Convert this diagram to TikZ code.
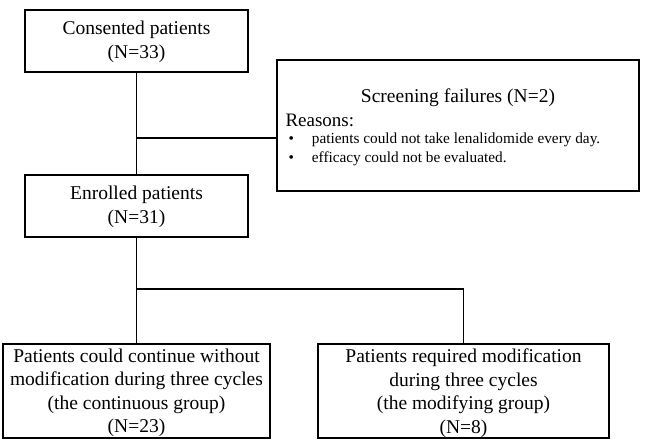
\documentclass[tikz,border=0pt]{standalone}
\usepackage{fontspec}
\setmainfont{Liberation Serif}
\begin{document}
\begin{tikzpicture}[x=1pt,y=-1pt,
 box/.style={draw,line width=1.6pt,inner sep=0pt},
 txt/.style={font=\fontsize{19.5}{23.5}\selectfont,align=center},
 ln/.style={line width=1.6pt}]
\useasboundingbox (0,0) rectangle (648,441);
\node[box,minimum width=223pt,minimum height=62pt] (a) at (136.5,41) {};
\node[txt] at (136.5,42) {Consented patients\\(N=33)};
\node[box,minimum width=362pt,minimum height=131pt] (s) at (458,125.5) {};
\node[txt] (st) at (458,98) {Screening failures (N=2)};
\node[font=\fontsize{19}{21}\selectfont,anchor=west] (r) at (282,120) {Reasons:};
\node[font=\fontsize{15.3}{17}\selectfont,anchor=west] (b1) at (285,140) {\textbullet\hspace{18pt}patients could not take lenalidomide every day.};
\node[font=\fontsize{15.3}{17}\selectfont,anchor=west] (b2) at (285,159) {\textbullet\hspace{18pt}efficacy could not be evaluated.};
\node[box,minimum width=223pt,minimum height=62pt] (e) at (136.5,206) {};
\node[txt] at (136.5,207) {Enrolled patients\\(N=31)};
\node[box,minimum width=267pt,minimum height=94pt] (c) at (136.5,391) {};
\node[txt] at (136.5,393) {Patients could continue without\\modification during three cycles\\(the continuous group)\\(N=23)};
\node[box,minimum width=291pt,minimum height=94pt] (m) at (463.5,391) {};
\node[txt] at (463.5,393) {Patients required modification\\during three cycles\\(the modifying group)\\(N=8)};
\coordinate (j1) at (136.5,138);
\coordinate (j2) at (136.5,289);
\coordinate (j3) at (463.5,289);
\draw[ln] (a.south) -- (e.north);
\draw[ln] (j1) -- (s.west |- j1);
\draw[ln] (e.south) -- (c.north);
\draw[ln] (j2) -- (j3) -- (m.north);
\end{tikzpicture}
\end{document}
